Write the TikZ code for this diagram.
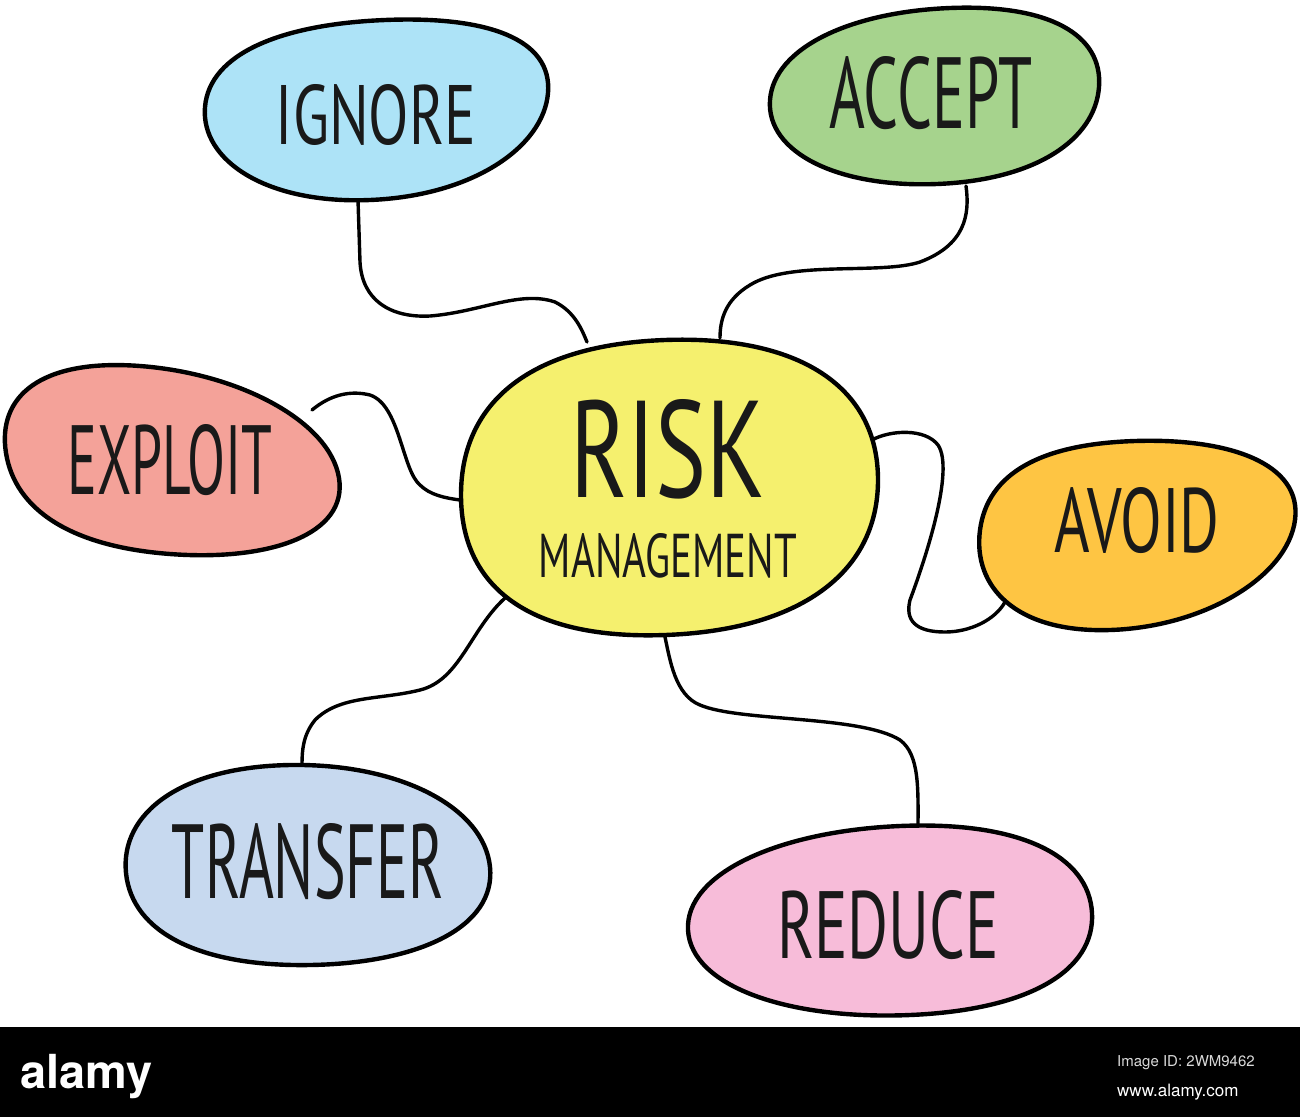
\documentclass[tikz,border=0pt]{standalone}
\usepackage{fontspec}
\setmainfont{PT Sans}
\newfontfamily\barfont{TeX Gyre Heros}
\usepackage{graphicx}
\definecolor{cIgnore}{HTML}{ADE3F7}
\definecolor{cAccept}{HTML}{A6D38D}
\definecolor{cExploit}{HTML}{F4A299}
\definecolor{cRisk}{HTML}{F5F06E}
\definecolor{cAvoid}{HTML}{FEC543}
\definecolor{cTransfer}{HTML}{C7D9EF}
\definecolor{cReduce}{HTML}{F7BCD9}
\newcommand{\blobtxt}[3]{\resizebox{#1pt}{#2pt}{#3}}
\tikzset{
  blob/.style={draw=black, line width=4.4pt, line join=round},
  link/.style={draw=black, line width=3.4pt, line cap=round},
  lbl/.style={inner sep=0pt, text=black!90}
}
\begin{document}
\begin{tikzpicture}[x=1pt,y=-1pt]
\useasboundingbox (0,0) rectangle (1300,1117);
\fill[white] (0,0) rectangle (1300,1117);

% connector end points
\coordinate (ig) at (358,200);
\coordinate (rIg) at (587,342);
\coordinate (ac) at (966,186);
\coordinate (rAc) at (720,338);
\coordinate (ex) at (312,410);
\coordinate (rEx) at (460,500);
\coordinate (rAv) at (872,440);
\coordinate (av) at (1005,602);
\coordinate (rTr) at (505,598);
\coordinate (tr) at (302,765);
\coordinate (rRe) at (665,637);
\coordinate (re) at (918,830);

% connectors
\draw[link] (ig) -- (360,262) .. controls (362,300) and (390,318) .. (430,316)
  .. controls (480,312) and (520,290) .. (555,302) .. controls (575,312) and (582,330) .. (rIg);
\draw[link] (ac) .. controls (970,215) and (965,245) .. (920,262)
  .. controls (880,275) and (790,260) .. (750,285) .. controls (725,300) and (720,320) .. (rAc);
\draw[link] (ex) .. controls (330,395) and (350,390) .. (370,395)
  .. controls (400,405) and (402,470) .. (420,485) .. controls (430,495) and (445,498) .. (rEx);
\draw[link] (rAv) .. controls (890,430) and (925,428) .. (938,445)
  .. controls (955,470) and (925,560) .. (910,600) .. controls (905,620) and (915,632) .. (945,632)
  .. controls (970,632) and (995,620) .. (av);
\draw[link] (rTr) .. controls (470,630) and (460,680) .. (420,690)
  .. controls (380,700) and (340,695) .. (315,720) .. controls (303,735) and (302,750) .. (tr);
\draw[link] (rRe) .. controls (670,660) and (675,695) .. (700,705)
  .. controls (740,722) and (860,715) .. (900,740) .. controls (920,755) and (918,790) .. (re);

% blobs
\draw[blob, fill=cIgnore] plot[smooth cycle, tension=1.08] coordinates
  {(205,107) (385,20) (548,93) (370,200)};
\draw[blob, fill=cAccept] plot[smooth cycle, tension=1.08] coordinates
  {(770,100) (950,8) (1099,87) (937,184)};
\draw[blob, fill=cExploit] plot[smooth cycle, tension=1.08] coordinates
  {(6,453) (140,366) (339,478) (170,554)};
\draw[blob, fill=cRisk] plot[smooth cycle, tension=1.15] coordinates
  {(461,495) (665,340) (878,480) (665,635)};
\draw[blob, fill=cAvoid] plot[smooth cycle, tension=1.08] coordinates
  {(980,530) (1135,441) (1295,520) (1110,630)};
\draw[blob, fill=cTransfer] plot[smooth cycle, tension=1.08] coordinates
  {(126,873) (290,765) (490,867) (310,965)};
\draw[blob, fill=cReduce] plot[smooth cycle, tension=1.08] coordinates
  {(688,930) (900,826) (1092,913) (910,1015)};

% labels
\node[lbl] (ignore) at (376,115) {\blobtxt{200}{60}{IGNORE}};
\node[lbl] (accept) at (931,93) {\blobtxt{203}{72}{ACCEPT}};
\node[lbl] (exploit) at (170,460) {\blobtxt{205}{70}{EXPLOIT}};
\node[lbl] (risk) at (668,449) {\blobtxt{195}{98}{RISK}};
\node[lbl] (mgmt) at (668,556) {\blobtxt{258}{44}{MANAGEMENT}};
\node[lbl] (avoid) at (1137,521) {\blobtxt{165}{65}{AVOID}};
\node[lbl] (transfer) at (308,862) {\blobtxt{272}{75}{TRANSFER}};
\node[lbl] (reduce) at (888,925) {\blobtxt{222}{68}{REDUCE}};

% stock bar
\fill[black] (0,1027) rectangle (1300,1117);
\node[inner sep=0pt, anchor=base west, text=white] (logo) at (20,1088)
  {\resizebox{132pt}{!}{\barfont\bfseries alamy}};
\node[inner sep=0pt, anchor=base west, text=white!85!black, font=\barfont\fontsize{15}{17}\selectfont] (imgid) at (1117,1066) {Image ID: 2WM9462};
\node[inner sep=0pt, anchor=base west, text=white, font=\barfont\fontsize{17}{19}\selectfont] (www) at (1117,1096) {www.alamy.com};
\end{tikzpicture}
\end{document}
